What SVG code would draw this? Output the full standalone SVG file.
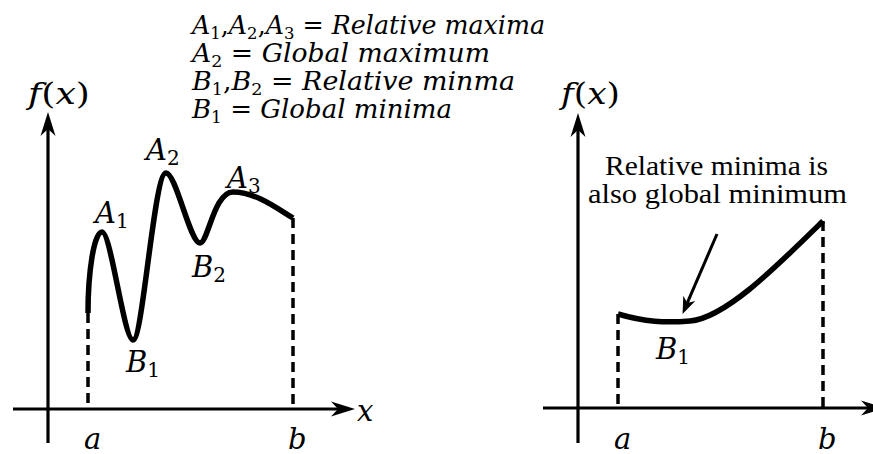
<svg xmlns="http://www.w3.org/2000/svg" width="873" height="454" viewBox="0 0 873 454">
<style>
.ax{stroke:#000;stroke-width:3.2;fill:none}
.ds{stroke:#000;stroke-width:3.5;fill:none;stroke-dasharray:10 6}
.cv{stroke:#000;stroke-width:5.5;fill:none;stroke-linejoin:round}
.m{font-family:"DejaVu Serif","Liberation Serif",serif;font-style:italic;font-size:26px;fill:#000}
.L{font-family:"DejaVu Serif","Liberation Serif",serif;font-style:italic;font-size:29px;fill:#000}
.up{font-style:normal}
.sb{font-style:normal;font-size:17px}
.sL{font-style:normal;font-size:20px}
.t{font-family:"Liberation Serif","Times New Roman",serif;font-size:27px;fill:#000;text-anchor:middle}
</style>
<defs>
<marker id="ah" markerUnits="userSpaceOnUse" markerWidth="30" markerHeight="20" viewBox="-2 -10 30 20" refX="7" refY="0" orient="auto">
<path d="M0,-7.5 L24,0 L0,7.5 L7,0 z" fill="#000"/>
</marker>
<marker id="ah2" markerUnits="userSpaceOnUse" markerWidth="22" markerHeight="16" viewBox="-2 -8 22 16" refX="5" refY="0" orient="auto">
<path d="M0,-6.5 L17,0 L0,6.5 L5,0 z" fill="#000"/>
</marker>
</defs>

<g id="legend">
<text class="m" x="192" y="34" textLength="353" lengthAdjust="spacingAndGlyphs">A<tspan class="sb" dy="5">1</tspan><tspan class="up" dy="-5">,</tspan>A<tspan class="sb" dy="5">2</tspan><tspan class="up" dy="-5">,</tspan>A<tspan class="sb" dy="5">3</tspan><tspan class="up" dy="-5"> = </tspan>Relative maxima</text>
<text class="m" x="192" y="62" textLength="298" lengthAdjust="spacingAndGlyphs">A<tspan class="sb" dy="5">2</tspan><tspan class="up" dy="-5"> = </tspan>Global maximum</text>
<text class="m" x="192" y="90" textLength="323" lengthAdjust="spacingAndGlyphs">B<tspan class="sb" dy="5">1</tspan><tspan class="up" dy="-5">,</tspan>B<tspan class="sb" dy="5">2</tspan><tspan class="up" dy="-5"> = </tspan>Relative minma</text>
<text class="m" x="192" y="118" textLength="260" lengthAdjust="spacingAndGlyphs">B<tspan class="sb" dy="5">1</tspan><tspan class="up" dy="-5"> = </tspan>Global minima</text>
</g>

<g id="connectors">
<line class="ax" x1="48" y1="443" x2="48" y2="129" marker-end="url(#ah)"/>
<line class="ax" x1="13" y1="409" x2="338" y2="409" marker-end="url(#ah)"/>
<line class="ds" x1="88" y1="313" x2="88" y2="409"/>
<line class="ds" x1="293" y1="218" x2="293" y2="409"/>
<line class="ax" x1="578" y1="443" x2="578" y2="130" marker-end="url(#ah)"/>
<line class="ax" x1="543" y1="408" x2="868" y2="408" marker-end="url(#ah)"/>
<line class="ds" x1="618" y1="314" x2="618" y2="408"/>
<line class="ds" x1="823" y1="221" x2="823" y2="408"/>
<line class="ax" x1="717" y1="234" x2="687.3" y2="302.9" style="stroke-width:3" marker-end="url(#ah2)"/>
</g>

<g id="curve-left">
<path class="cv" d="M88,313 C88,272 94,232 102,232 C111,232 124,340 133,340 C143,340 154,173 166,173 C176,173 190,243 200,243 C208,243 214,192 233,192 C255,192 275,207 293,218"/>
</g>
<g id="curve-right">
<path class="cv" d="M618,314 C645,322 665,323 690,321 C725,318 775,268 823,221"/>
</g>

<g id="labels-left">
<text class="L" x="28" y="104" textLength="62" lengthAdjust="spacingAndGlyphs">f<tspan class="up">(</tspan>x<tspan class="up">)</tspan></text>
<text class="L" x="95" y="223">A<tspan class="sL" dy="5">1</tspan></text>
<text class="L" x="146" y="160">A<tspan class="sL" dy="5">2</tspan></text>
<text class="L" x="227" y="188">A<tspan class="sL" dy="5">3</tspan></text>
<text class="L" x="126" y="372">B<tspan class="sL" dy="5">1</tspan></text>
<text class="L" x="192" y="277">B<tspan class="sL" dy="5">2</tspan></text>
<text class="L" x="84" y="449">a</text>
<text class="L" x="288" y="449">b</text>
<text class="L" x="357" y="421">x</text>
</g>

<g id="labels-right">
<text class="L" x="561" y="104" textLength="59" lengthAdjust="spacingAndGlyphs">f<tspan class="up">(</tspan>x<tspan class="up">)</tspan></text>
<text class="t" x="716.5" y="175" textLength="223" lengthAdjust="spacingAndGlyphs">Relative minima is</text>
<text class="t" x="717.5" y="203" textLength="259" lengthAdjust="spacingAndGlyphs">also global minimum</text>
<text class="L" x="656" y="359">B<tspan class="sL" dy="5">1</tspan></text>
<text class="L" x="614" y="449">a</text>
<text class="L" x="818" y="449">b</text>
</g>
</svg>
